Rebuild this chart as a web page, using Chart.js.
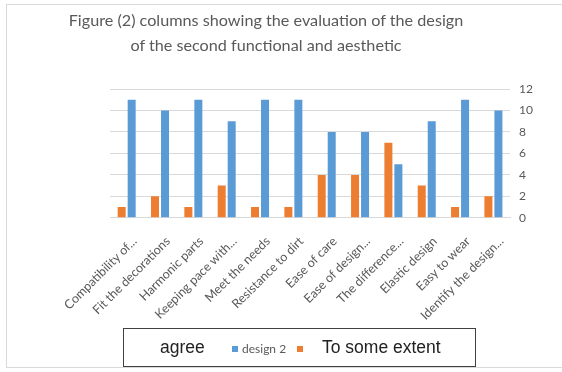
<!DOCTYPE html>
<html>
<head>
<meta charset="utf-8">
<script src="https://cdn.jsdelivr.net/npm/chart.js@4/dist/chart.umd.min.js"></script>
<style>
  html, body { margin: 0; padding: 0; background: #fff; }
  #wrap { position: relative; width: 562px; height: 372px; overflow: hidden; }
  #frame { position: absolute; left: 6px; top: 4px; width: 570px; height: 364px; border: 1px solid #d9d9d9; box-sizing: border-box; }
  #title { position: absolute; left: 0; top: 7px; width: 532px; text-align: center; font-family: Lato, "Open Sans", sans-serif; font-size: 16.2px; line-height: 25px; color: #595959; }
  #legend { position: absolute; left: 123px; top: 328px; width: 353px; height: 39px; border: 1.5px solid #404040; box-sizing: border-box; font-family: "Liberation Sans", Arial, sans-serif; color: #222; }
  #legend span { position: absolute; top: 8px; white-space: nowrap; }
  .big { font-size: 17.5px; }
  .small { font-family: Lato, sans-serif; font-size: 12px; color: #595959; top: 12px !important; }
  .sw { width: 6px; height: 6px; top: 17px !important; }
  canvas { position: absolute; left: 0; top: 0; }
</style>
</head>
<body>
<div id="wrap">
  <div id="frame"></div>
  <canvas id="chart" width="562" height="372"></canvas>
  <div id="title">Figure (2) columns showing the evaluation of the design<br>of the second functional and aesthetic</div>
  <div id="legend">
    <span class="big" style="left:36px">agree</span>
    <span class="sw" style="left:108px;background:#5b9bd5"></span>
    <span class="small" style="left:118px">design 2</span>
    <span class="sw" style="left:173px;background:#ed7d31"></span>
    <span class="big" style="left:198px">To some extent</span>
  </div>
</div>
<script>
const categories = ['Compatibility of...', 'Fit the decorations', 'Harmonic parts', 'Keeping pace with...',
  'Meet the needs', 'Resistance to dirt', 'Ease of care', 'Ease of design...', 'The difference...',
  'Elastic design', 'Easy to wear', 'Identify the design...'];
const someExtent = [1, 2, 1, 3, 1, 1, 4, 4, 7, 3, 1, 2];
const design2 = [11, 10, 11, 9, 11, 11, 8, 8, 5, 9, 11, 10];
const yTicks = [0, 2, 4, 6, 8, 10, 12];

const ctx = document.getElementById('chart').getContext('2d');
new Chart(ctx, {
  type: 'bar',
  data: {
    labels: categories,
    datasets: [{
      label: 'To some extent',
      data: someExtent,
      backgroundColor: '#ed7d31',
      categoryPercentage: 0.6,
      barPercentage: 0.8,
    }, {
      label: 'design 2',
      data: design2,
      backgroundColor: '#5b9bd5',
      categoryPercentage: 0.6,
      barPercentage: 0.8,
    }]
  },
  options: {
    responsive: false,
    animation: false,
    layout: { padding: { left: 110, right: 20, top: 89, bottom: 41 } },
    plugins: { legend: { display: false }, tooltip: { enabled: false } },
    scales: {
      x: {
        grid: { display: false },
        border: { color: '#d9d9d9' },
        ticks: { minRotation: 45, maxRotation: 45, autoSkip: false, color: '#595959', font: { family: 'Lato', size: 12.5 }, padding: 8, labelOffset: 8 }
      },
      y: {
        position: 'right',
        min: 0, max: 12,
        afterBuildTicks: axis => { axis.ticks = yTicks.map(v => ({ value: v })); },
        grid: { color: '#d9d9d9', drawTicks: false },
        border: { display: false },
        ticks: { color: '#595959', font: { family: 'Lato', size: 12 }, padding: 9 }
      }
    }
  }
});
</script>
</body>
</html>
